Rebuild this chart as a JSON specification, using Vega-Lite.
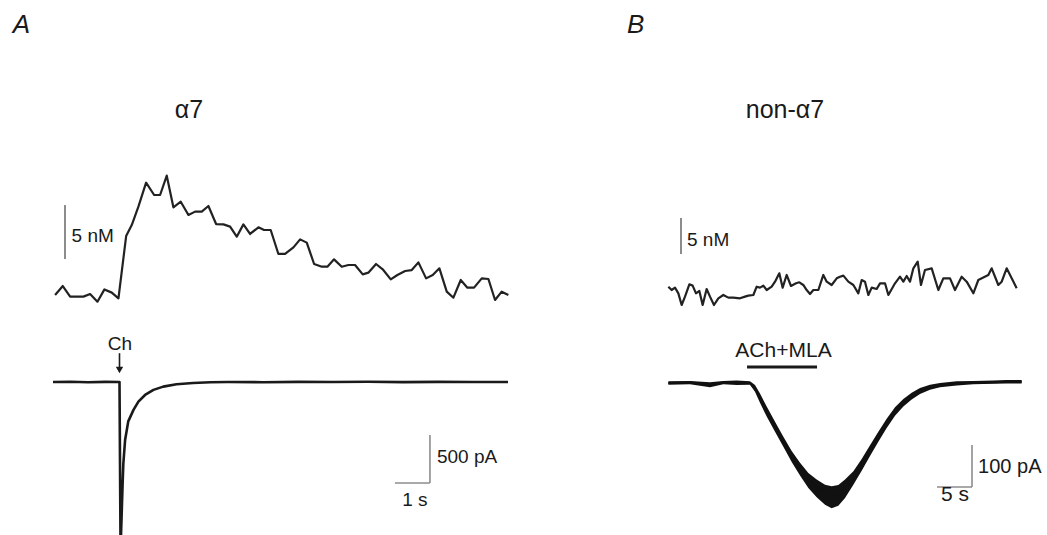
{
  "$schema": "https://vega.github.io/schema/vega-lite/v6.json",
  "padding": 0,
  "spacing": 40,
  "bounds": "flush",
  "background": "white",
  "config": {"view": {"stroke": null}, "font": "Liberation Sans"},
  "hconcat": [
    {
      "width": 560,
      "height": 540,
      "resolve": {"scale": {"y": "independent"}},
      "layer": [
        {
          "encoding": {
            "x": {"field": "t", "type": "quantitative", "scale": {"domain": [-1.5143, 14.4857], "nice": false, "zero": false}, "axis": null},
            "y": {"field": "c", "type": "quantitative", "scale": {"domain": [-22.685, 27.315], "nice": false, "zero": false}, "axis": null}
          },
          "layer": [
            {
              "data": {"values": [
                {"t":0.06,"c":0},{"t":0.28,"c":0.83},{"t":0.49,"c":-0.15},{"t":0.68,"c":-0.15},{"t":0.87,"c":-0.15},{"t":1.06,"c":0.09},{"t":1.27,"c":-0.62},{"t":1.47,"c":0.52},{"t":1.68,"c":0.22},{"t":1.87,"c":-0.31},{"t":2.09,"c":5.46},{"t":2.25,"c":6.48},{"t":2.44,"c":8.18},{"t":2.66,"c":10.4},{"t":2.89,"c":9.26},{"t":3.06,"c":9.26},{"t":3.25,"c":11.05},{"t":3.44,"c":8.12},{"t":3.65,"c":8.64},{"t":3.87,"c":7.41},{"t":4.06,"c":7.72},{"t":4.25,"c":7.72},{"t":4.44,"c":8.24},{"t":4.66,"c":6.57},{"t":4.87,"c":6.54},{"t":5.06,"c":6.33},{"t":5.25,"c":5.4},{"t":5.44,"c":6.54},{"t":5.63,"c":5.65},{"t":5.87,"c":6.27},{"t":6.03,"c":6.02},{"t":6.22,"c":6.02},{"t":6.44,"c":3.8},{"t":6.63,"c":3.8},{"t":6.87,"c":4.41},{"t":7.06,"c":5.15},{"t":7.25,"c":4.85},{"t":7.46,"c":2.87},{"t":7.68,"c":2.62},{"t":7.84,"c":2.62},{"t":8.03,"c":3.3},{"t":8.25,"c":2.62},{"t":8.44,"c":2.78},{"t":8.63,"c":2.78},{"t":8.85,"c":1.91},{"t":9.01,"c":2.07},{"t":9.23,"c":2.87},{"t":9.42,"c":2.38},{"t":9.65,"c":1.45},{"t":9.84,"c":1.85},{"t":10.06,"c":2.22},{"t":10.25,"c":2.31},{"t":10.44,"c":3.02},{"t":10.66,"c":1.54},{"t":10.85,"c":1.85},{"t":11.04,"c":2.47},{"t":11.25,"c":0.31},{"t":11.44,"c":-0.25},{"t":11.65,"c":1.39},{"t":11.84,"c":0.68},{"t":12.03,"c":0.68},{"t":12.25,"c":1.54},{"t":12.44,"c":1.48},{"t":12.63,"c":-0.46},{"t":12.82,"c":0.31},{"t":13.01,"c":0}
              ]},
              "mark": {"type": "line", "color": "#222222", "strokeWidth": 2.2, "strokeJoin": "round"}
            },
            {
              "data": {"values": [{"t": 0.343, "c": 3.33, "c2": 8.33}]},
              "mark": {"type": "rule", "color": "#8c8c8c", "strokeWidth": 2},
              "encoding": {"y2": {"field": "c2"}}
            },
            {
              "data": {"values": [{"t": 0.53, "c": 5.5, "label": "5 nM"}]},
              "mark": {"type": "text", "align": "left", "baseline": "middle", "fontSize": 19, "color": "#1a1a1a"},
              "encoding": {"text": {"field": "label"}}
            },
            {
              "data": {"values": [{"t": 3.886, "c": 17.1, "label": "α7"}]},
              "mark": {"type": "text", "align": "center", "baseline": "middle", "fontSize": 25, "color": "#1a1a1a"},
              "encoding": {"text": {"field": "label"}}
            },
            {
              "data": {"values": [{"t": -1.15, "c": 25, "label": "A"}]},
              "mark": {"type": "text", "align": "left", "baseline": "middle", "fontSize": 26, "fontStyle": "italic", "color": "#1a1a1a"},
              "encoding": {"text": {"field": "label"}}
            }
          ]
        },
        {
          "encoding": {
            "x": {"field": "t", "type": "quantitative", "scale": {"domain": [-1.5143, 14.4857], "nice": false, "zero": false}, "axis": null},
            "y": {"field": "i", "type": "quantitative", "scale": {"domain": [-1645.8, 3979.2], "nice": false, "zero": false}, "axis": null}
          },
          "layer": [
            {
              "data": {"values": [
                {"t":0,"i":0},{"t":0.5,"i":2},{"t":1.0,"i":-2},{"t":1.5,"i":1},{"t":1.9,"i":0},{"t":1.93,"i":-1750},{"t":1.96,"i":-1400},{"t":1.99,"i":-1050},{"t":2.01,"i":-847},{"t":2.06,"i":-604},{"t":2.15,"i":-410},{"t":2.3,"i":-290},{"t":2.44,"i":-205},{"t":2.63,"i":-135},{"t":2.87,"i":-82},{"t":3.15,"i":-48},{"t":3.53,"i":-24},{"t":4.0,"i":-10},{"t":4.5,"i":-3},{"t":5,"i":0},{"t":6,"i":-2},{"t":7,"i":1},{"t":8,"i":0},{"t":9,"i":3},{"t":10,"i":-1},{"t":11,"i":1},{"t":12,"i":0},{"t":13,"i":0}
              ]},
              "mark": {"type": "line", "color": "#1a1a1a", "strokeWidth": 2.6, "strokeJoin": "round"}
            },
            {
              "data": {"values": [{"t": 10.77, "i": -552, "i2": -1052}]},
              "mark": {"type": "rule", "color": "#8c8c8c", "strokeWidth": 1.6},
              "encoding": {"y2": {"field": "i2"}}
            },
            {
              "data": {"values": [{"t": 9.77, "t2": 10.77, "i": -1052}]},
              "mark": {"type": "rule", "color": "#8c8c8c", "strokeWidth": 1.6},
              "encoding": {"x2": {"field": "t2"}}
            },
            {
              "data": {"values": [{"t": 1.9, "i": 300, "i2": 150}]},
              "mark": {"type": "rule", "color": "#1a1a1a", "strokeWidth": 1.6},
              "encoding": {"y2": {"field": "i2"}}
            },
            {
              "data": {"values": [{"t": 1.9, "i": 125}]},
              "mark": {"type": "point", "shape": "triangle-down", "filled": true, "color": "#1a1a1a", "size": 55, "opacity": 1}
            },
            {
              "data": {"values": [{"t": 1.914, "i": 396, "label": "Ch"}]},
              "mark": {"type": "text", "align": "center", "baseline": "middle", "fontSize": 19, "color": "#1a1a1a"},
              "encoding": {"text": {"field": "label"}}
            },
            {
              "data": {"values": [{"t": 10.97, "i": -781, "label": "500 pA"}]},
              "mark": {"type": "text", "align": "left", "baseline": "middle", "fontSize": 19, "color": "#1a1a1a"},
              "encoding": {"text": {"field": "label"}}
            },
            {
              "data": {"values": [{"t": 10.34, "i": -1229, "label": "1 s"}]},
              "mark": {"type": "text", "align": "center", "baseline": "middle", "fontSize": 19, "color": "#1a1a1a"},
              "encoding": {"text": {"field": "label"}}
            }
          ]
        }
      ]
    },
    {
      "width": 447,
      "height": 540,
      "resolve": {"scale": {"y": "independent"}},
      "layer": [
        {
          "encoding": {
            "x": {"field": "t", "type": "quantitative", "scale": {"domain": [-9.7143, 54.1429], "nice": false, "zero": false}, "axis": null},
            "y": {"field": "c", "type": "quantitative", "scale": {"domain": [-34.03, 40.97], "nice": false, "zero": false}, "axis": null}
          },
          "layer": [
            {
              "data": {"values": [
                {"t":0.05,"c":1.15},{"t":0.52,"c":0.69},{"t":1.0,"c":1.02},{"t":1.48,"c":0.23},{"t":1.95,"c":-1.39},{"t":2.43,"c":-0.23},{"t":3.05,"c":1.48},{"t":3.52,"c":1.3},{"t":4.0,"c":0.23},{"t":4.48,"c":0.56},{"t":4.95,"c":-1.39},{"t":5.52,"c":0.83},{"t":6.0,"c":-0.23},{"t":6.57,"c":-1.39},{"t":7.19,"c":-0.46},{"t":7.9,"c":0},{"t":8.62,"c":-0.37},{"t":9.33,"c":-0.37},{"t":10.29,"c":-0.46},{"t":11.0,"c":-0.23},{"t":11.48,"c":-0.09},{"t":12.19,"c":0},{"t":12.67,"c":1.15},{"t":13.14,"c":1.02},{"t":13.62,"c":1.3},{"t":14.1,"c":0.69},{"t":14.81,"c":1.15},{"t":15.29,"c":1.85},{"t":15.9,"c":3.01},{"t":16.38,"c":1.02},{"t":16.95,"c":2.78},{"t":17.57,"c":1.25},{"t":18.29,"c":1.62},{"t":18.76,"c":1.76},{"t":19.33,"c":1.39},{"t":19.81,"c":0.69},{"t":20.29,"c":0.14},{"t":20.76,"c":0.69},{"t":21.48,"c":0.69},{"t":22.19,"c":2.78},{"t":22.67,"c":1.85},{"t":23.38,"c":1.39},{"t":24.1,"c":2.31},{"t":24.57,"c":2.54},{"t":25.05,"c":2.69},{"t":25.76,"c":1.85},{"t":26.48,"c":1.39},{"t":27.19,"c":0.23},{"t":27.67,"c":2.08},{"t":28.14,"c":1.85},{"t":28.62,"c":0},{"t":29.1,"c":1.02},{"t":29.81,"c":0.83},{"t":30.29,"c":1.62},{"t":31.0,"c":1.62},{"t":31.48,"c":0},{"t":32.43,"c":1.62},{"t":33.14,"c":2.54},{"t":33.62,"c":1.85},{"t":34.1,"c":2.64},{"t":34.57,"c":1.85},{"t":35.05,"c":3.7},{"t":35.67,"c":4.63},{"t":36.14,"c":1.39},{"t":36.71,"c":3.47},{"t":37.67,"c":3.7},{"t":38.62,"c":0.69},{"t":39.33,"c":2.31},{"t":40.29,"c":2.31},{"t":41.0,"c":0.69},{"t":41.95,"c":2.54},{"t":42.67,"c":1.85},{"t":43.62,"c":0.23},{"t":44.33,"c":2.08},{"t":45.76,"c":2.78},{"t":46.24,"c":3.7},{"t":47.19,"c":1.39},{"t":47.67,"c":1.85},{"t":48.38,"c":3.7},{"t":49.1,"c":2.31},{"t":49.81,"c":0.93}
              ]},
              "mark": {"type": "line", "color": "#222222", "strokeWidth": 2.2, "strokeJoin": "round"}
            },
            {
              "data": {"values": [{"t": 1.857, "c": 5.69, "c2": 10.69}]},
              "mark": {"type": "rule", "color": "#8c8c8c", "strokeWidth": 2},
              "encoding": {"y2": {"field": "c2"}}
            },
            {
              "data": {"values": [{"t": 2.71, "c": 7.6, "label": "5 nM"}]},
              "mark": {"type": "text", "align": "left", "baseline": "middle", "fontSize": 19, "color": "#1a1a1a"},
              "encoding": {"text": {"field": "label"}}
            },
            {
              "data": {"values": [{"t": 16.71, "c": 25.7, "label": "non-α7"}]},
              "mark": {"type": "text", "align": "center", "baseline": "middle", "fontSize": 25, "color": "#1a1a1a"},
              "encoding": {"text": {"field": "label"}}
            },
            {
              "data": {"values": [{"t": -5.86, "c": 37.5, "label": "B"}]},
              "mark": {"type": "text", "align": "left", "baseline": "middle", "fontSize": 26, "fontStyle": "italic", "color": "#1a1a1a"},
              "encoding": {"text": {"field": "label"}}
            }
          ]
        },
        {
          "encoding": {
            "x": {"field": "t", "type": "quantitative", "scale": {"domain": [-9.7143, 54.1429], "nice": false, "zero": false}, "axis": null},
            "y": {"field": "i", "type": "quantitative", "scale": {"domain": [-373.8, 911.9], "nice": false, "zero": false}, "axis": null}
          },
          "layer": [
            {
              "data": {"name": "curB", "values": [
                {"t":0.05,"i":0,"lo":-4,"hi":4},{"t":3.14,"i":1,"lo":-3,"hi":5},{"t":6.0,"i":-3,"lo":-10,"hi":2},{"t":7.9,"i":1,"lo":-3,"hi":5},{"t":9.8,"i":2,"lo":-5,"hi":6},{"t":11.71,"i":0,"lo":-4,"hi":4},{"t":12.43,"i":-13,"lo":-21,"hi":-5},{"t":13.14,"i":-36,"lo":-47,"hi":-25},{"t":14.1,"i":-68,"lo":-80,"hi":-56},{"t":15.29,"i":-104,"lo":-116,"hi":-92},{"t":16.48,"i":-140,"lo":-152,"hi":-128},{"t":17.67,"i":-175,"lo":-188,"hi":-162},{"t":18.86,"i":-205,"lo":-220,"hi":-190},{"t":20.05,"i":-232,"lo":-250,"hi":-214},{"t":21.24,"i":-250,"lo":-272,"hi":-230},{"t":22.43,"i":-263,"lo":-290,"hi":-242},{"t":23.38,"i":-268,"lo":-298,"hi":-246},{"t":24.33,"i":-264,"lo":-292,"hi":-243},{"t":25.29,"i":-250,"lo":-274,"hi":-230},{"t":26.48,"i":-225,"lo":-242,"hi":-210},{"t":27.67,"i":-195,"lo":-209,"hi":-181},{"t":28.86,"i":-161,"lo":-174,"hi":-148},{"t":30.05,"i":-128,"lo":-140,"hi":-116},{"t":31.24,"i":-96,"lo":-107,"hi":-85},{"t":32.43,"i":-68,"lo":-78,"hi":-58},{"t":33.62,"i":-47,"lo":-56,"hi":-38},{"t":34.81,"i":-31,"lo":-39,"hi":-23},{"t":36.0,"i":-19,"lo":-26,"hi":-12},{"t":37.43,"i":-10,"lo":-16,"hi":-4},{"t":38.86,"i":-5,"lo":-10,"hi":0},{"t":41.24,"i":-1,"lo":-6,"hi":4},{"t":43.62,"i":1,"lo":-3,"hi":5},{"t":46.48,"i":2,"lo":-2,"hi":6},{"t":48.38,"i":3,"lo":-1,"hi":7},{"t":50.52,"i":3,"lo":-1,"hi":7}
              ]},
              "mark": {"type": "area", "color": "#111111", "opacity": 1},
              "encoding": {"y": {"field": "lo", "type": "quantitative"}, "y2": {"field": "hi"}}
            },
            {
              "data": {"name": "curB"},
              "mark": {"type": "line", "color": "#111111", "strokeWidth": 2, "strokeJoin": "round"}
            },
            {
              "data": {"values": [{"t": 11.29, "t2": 21.29, "i": 38}]},
              "mark": {"type": "rule", "color": "#1a1a1a", "strokeWidth": 3},
              "encoding": {"x2": {"field": "t2"}}
            },
            {
              "data": {"values": [{"t": 16.5, "i": 76, "label": "ACh+MLA"}]},
              "mark": {"type": "text", "align": "center", "baseline": "middle", "fontSize": 21, "color": "#1a1a1a"},
              "encoding": {"text": {"field": "label"}}
            },
            {
              "data": {"values": [{"t": 43.43, "i": -147.6, "i2": -247.6}]},
              "mark": {"type": "rule", "color": "#8c8c8c", "strokeWidth": 1.6},
              "encoding": {"y2": {"field": "i2"}}
            },
            {
              "data": {"values": [{"t": 38.43, "t2": 43.43, "i": -247.6}]},
              "mark": {"type": "rule", "color": "#8c8c8c", "strokeWidth": 1.6},
              "encoding": {"x2": {"field": "t2"}}
            },
            {
              "data": {"values": [{"t": 44.3, "i": -200, "label": "100 pA"}]},
              "mark": {"type": "text", "align": "left", "baseline": "middle", "fontSize": 20, "color": "#1a1a1a"},
              "encoding": {"text": {"field": "label"}}
            },
            {
              "data": {"values": [{"t": 41.0, "i": -266.7, "label": "5 s"}]},
              "mark": {"type": "text", "align": "center", "baseline": "middle", "fontSize": 21, "color": "#1a1a1a"},
              "encoding": {"text": {"field": "label"}}
            }
          ]
        }
      ]
    }
  ]
}
